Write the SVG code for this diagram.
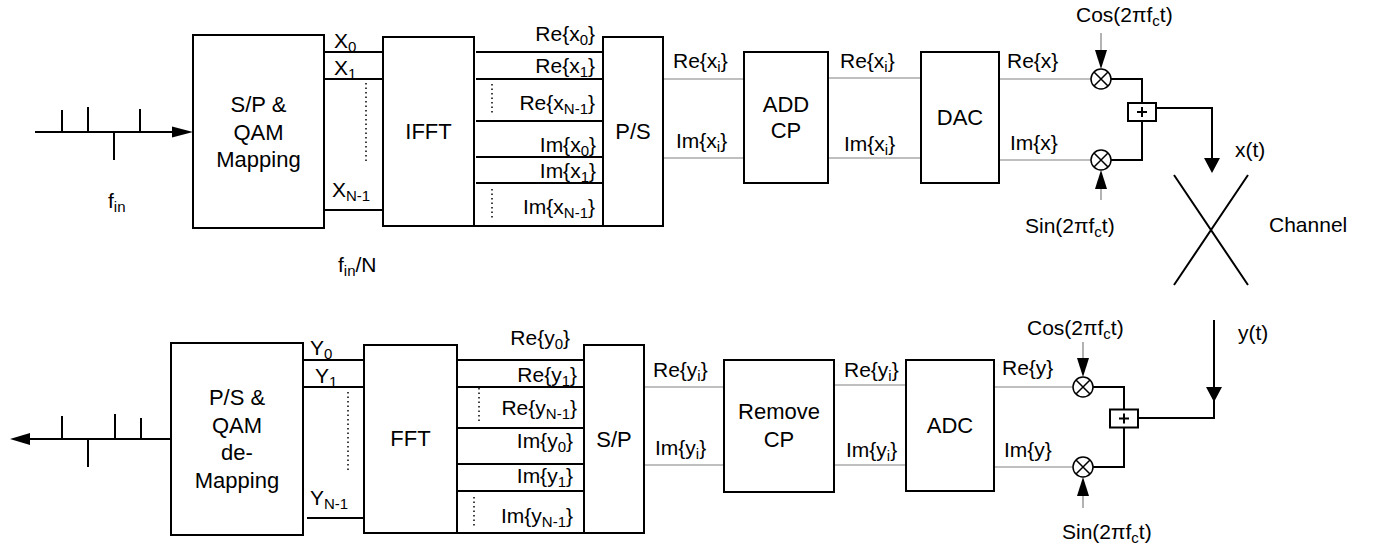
<svg xmlns="http://www.w3.org/2000/svg" width="1377" height="550" viewBox="0 0 1377 550">
<style>
text{font-family:"Liberation Sans",Arial,sans-serif;fill:#000}
.blk{font-size:22px;text-anchor:middle}
.lbl{font-size:21px}
.end{text-anchor:end}
.sub{font-size:15px}
.box{fill:#fff;stroke:#000;stroke-width:2}
.bus{fill:none;stroke:#000;stroke-width:2}
.thin{fill:none;stroke:#808080;stroke-width:1.2}
.dot{fill:none;stroke:#000;stroke-width:1.5;stroke-dasharray:1.5 3}
.ah{fill:#000;stroke:none}
</style>
<defs>
<g id="mixer">
<circle cx="0" cy="0" r="10" fill="#fff" stroke="#000" stroke-width="1.5"/>
<path d="M-7,-7L7,7M7,-7L-7,7" stroke="#000" stroke-width="1.5"/>
</g>
<g id="adder">
<rect x="-14" y="-9" width="28" height="18" fill="#fff" stroke="#000" stroke-width="2"/>
<path d="M-5,0H5M0,-5V5" stroke="#000" stroke-width="2"/>
</g>
<path id="ahDown" d="M-8,-15L8,-15L0,0Z"/>
<path id="ahSmallDown" d="M-6,-19L6,-19L0,0Z"/>
</defs>

<g id="connectors">
<!-- top input bit stream -->
<path class="bus" d="M35,132H174M62,132V110M88,132V107M140,132V109M114,132V160"/>
<path class="ah" d="M172,126.5L193,132L172,137.5Z"/>
<!-- X lines -->
<path class="bus" d="M324,52H383M324,79H383M325,210H384"/>
<path class="dot" d="M366,83V163"/>
<!-- IFFT to P/S -->
<path class="bus" d="M476,52H603M476,79H603M476,121H603M476,157H603M476,183H603M474,226H603"/>
<path class="dot" d="M492,84V113M492,189V218"/>
<path class="thin" d="M663,79H744M663,158H744M828,78H921M828,158H921M999,79H1091M999,160H1091"/>
<!-- carriers top -->
<path class="thin" d="M1101,33V50M1101,200V185"/>
<use href="#ahSmallDown" class="ah" x="1101" y="69"/>
<use href="#ahSmallDown" class="ah" transform="translate(1101,170) rotate(180)"/>
<path class="bus" d="M1111,79H1142V103M1111,160H1142V121M1156,108H1212V160"/>
<use href="#ahDown" class="ah" x="1212" y="173"/>
<!-- channel -->
<path class="bus" d="M1174,175L1248,285M1248,175L1174,285"/>
<!-- bottom -->
<path class="bus" d="M1214,320V390M1214,400V418H1138"/>
<use href="#ahDown" class="ah" x="1214" y="402"/>
<path class="thin" d="M1083,342V360M1083,508V492"/>
<use href="#ahSmallDown" class="ah" x="1083" y="377"/>
<use href="#ahSmallDown" class="ah" transform="translate(1083,477) rotate(180)"/>
<path class="bus" d="M1093,387H1124V409M1093,467H1124V428"/>
<path class="thin" d="M994,387H1073M994,467H1073M834,385H906M834,465H906M644,387H724M644,465H724"/>
<path class="bus" d="M456,360H584M456,387H584M456,428H584M456,464H584M456,491H584M458,533H584"/>
<path class="dot" d="M479,388V423M474,497V528"/>
<path class="bus" d="M303,360H364M303,387H364M307,518H367"/>
<path class="dot" d="M348,392V470"/>
<path class="bus" d="M171,439H28M62,439V416M115,439V414M141,439V418M88,439V467"/>
<path class="ah" d="M30,433L10,439L30,445Z"/>
</g>

<g id="spqam">
<rect class="box" x="193" y="35" width="131" height="193"/>
<text class="blk" x="258.5" y="112">S/P &amp;</text>
<text class="blk" x="258.5" y="139.5">QAM</text>
<text class="blk" x="258.5" y="167">Mapping</text>
</g>
<g id="ifft">
<rect class="box" x="383" y="37" width="91" height="189"/>
<text class="blk" x="428.5" y="139">IFFT</text>
</g>
<g id="ps">
<rect class="box" x="603" y="37" width="60" height="189"/>
<text class="blk" x="633" y="139">P/S</text>
</g>
<g id="addcp">
<rect class="box" x="744" y="52" width="84" height="131"/>
<text class="blk" x="786" y="112">ADD</text>
<text class="blk" x="786" y="138">CP</text>
</g>
<g id="dac">
<rect class="box" x="921" y="52" width="78" height="131"/>
<text class="blk" x="960" y="125">DAC</text>
</g>
<g id="mixTopRe"><use href="#mixer" x="1101" y="79"/></g>
<g id="mixTopIm"><use href="#mixer" x="1101" y="160"/></g>
<g id="addTop"><use href="#adder" x="1142" y="112"/></g>

<g id="psqam">
<rect class="box" x="171" y="343" width="132" height="192"/>
<text class="blk" x="237" y="405">P/S &amp;</text>
<text class="blk" x="237" y="433">QAM</text>
<text class="blk" x="237" y="460">de-</text>
<text class="blk" x="237" y="488">Mapping</text>
</g>
<g id="fft">
<rect class="box" x="364" y="345" width="93" height="188"/>
<text class="blk" x="410.5" y="446">FFT</text>
</g>
<g id="sp">
<rect class="box" x="584" y="345" width="60" height="188"/>
<text class="blk" x="614" y="447">S/P</text>
</g>
<g id="removecp">
<rect class="box" x="724" y="360" width="110" height="132"/>
<text class="blk" x="779" y="419">Remove</text>
<text class="blk" x="779" y="447">CP</text>
</g>
<g id="adc">
<rect class="box" x="906" y="360" width="88" height="131"/>
<text class="blk" x="950" y="433">ADC</text>
</g>
<g id="mixBotRe"><use href="#mixer" x="1083" y="387"/></g>
<g id="mixBotIm"><use href="#mixer" x="1083" y="467"/></g>
<g id="addBot"><use href="#adder" x="1124" y="418.5"/></g>

<g id="labels">
<text class="lbl" x="108" y="208">f<tspan class="sub" dy="4">in</tspan></text>
<text class="lbl" x="338" y="272">f<tspan class="sub" dy="4">in</tspan><tspan dy="-4">/N</tspan></text>
<text class="lbl" x="334" y="48">X<tspan class="sub" dy="4">0</tspan></text>
<text class="lbl" x="334" y="75">X<tspan class="sub" dy="4">1</tspan></text>
<text class="lbl" x="332" y="197">X<tspan class="sub" dy="4">N-1</tspan></text>
<text class="lbl end" x="595" y="41">Re{x<tspan class="sub" dy="4">0</tspan><tspan dy="-4">}</tspan></text>
<text class="lbl end" x="595" y="73">Re{x<tspan class="sub" dy="4">1</tspan><tspan dy="-4">}</tspan></text>
<text class="lbl end" x="595" y="110">Re{x<tspan class="sub" dy="4">N-1</tspan><tspan dy="-4">}</tspan></text>
<text class="lbl end" x="596" y="152">Im{x<tspan class="sub" dy="4">0</tspan><tspan dy="-4">}</tspan></text>
<text class="lbl end" x="596" y="178">Im{x<tspan class="sub" dy="4">1</tspan><tspan dy="-4">}</tspan></text>
<text class="lbl end" x="595" y="214">Im{x<tspan class="sub" dy="4">N-1</tspan><tspan dy="-4">}</tspan></text>
<text class="lbl" x="673" y="68">Re{x<tspan class="sub" dy="4">i</tspan><tspan dy="-4">}</tspan></text>
<text class="lbl" x="676" y="148">Im{x<tspan class="sub" dy="4">i</tspan><tspan dy="-4">}</tspan></text>
<text class="lbl" x="840" y="68">Re{x<tspan class="sub" dy="4">i</tspan><tspan dy="-4">}</tspan></text>
<text class="lbl" x="844" y="151">Im{x<tspan class="sub" dy="4">i</tspan><tspan dy="-4">}</tspan></text>
<text class="lbl" x="1007" y="68">Re{x}</text>
<text class="lbl" x="1010" y="150">Im{x}</text>
<text class="lbl" x="1076" y="22">Cos(2πf<tspan class="sub" dy="4">c</tspan><tspan dy="-4">t)</tspan></text>
<text class="lbl" x="1025" y="233">Sin(2πf<tspan class="sub" dy="4">c</tspan><tspan dy="-4">t)</tspan></text>
<text class="lbl" x="1235" y="157">x(t)</text>
<text class="lbl" x="1269" y="232">Channel</text>
<text class="lbl" x="1238" y="340">y(t)</text>

<text class="lbl" x="310" y="355">Y<tspan class="sub" dy="4">0</tspan></text>
<text class="lbl" x="315" y="383">Y<tspan class="sub" dy="4">1</tspan></text>
<text class="lbl" x="310" y="505">Y<tspan class="sub" dy="4">N-1</tspan></text>
<text class="lbl end" x="570" y="345">Re{y<tspan class="sub" dy="4">0</tspan><tspan dy="-4">}</tspan></text>
<text class="lbl end" x="577" y="382">Re{y<tspan class="sub" dy="4">1</tspan><tspan dy="-4">}</tspan></text>
<text class="lbl end" x="577" y="415">Re{y<tspan class="sub" dy="4">N-1</tspan><tspan dy="-4">}</tspan></text>
<text class="lbl end" x="573" y="448">Im{y<tspan class="sub" dy="4">0</tspan><tspan dy="-4">}</tspan></text>
<text class="lbl end" x="573" y="483">Im{y<tspan class="sub" dy="4">1</tspan><tspan dy="-4">}</tspan></text>
<text class="lbl end" x="573" y="523">Im{y<tspan class="sub" dy="4">N-1</tspan><tspan dy="-4">}</tspan></text>
<text class="lbl" x="653" y="377">Re{y<tspan class="sub" dy="4">i</tspan><tspan dy="-4">}</tspan></text>
<text class="lbl" x="655" y="455">Im{y<tspan class="sub" dy="4">i</tspan><tspan dy="-4">}</tspan></text>
<text class="lbl" x="844" y="377">Re{y<tspan class="sub" dy="4">i</tspan><tspan dy="-4">}</tspan></text>
<text class="lbl" x="846" y="457">Im{y<tspan class="sub" dy="4">i</tspan><tspan dy="-4">}</tspan></text>
<text class="lbl" x="1002" y="375">Re{y}</text>
<text class="lbl" x="1004" y="457">Im{y}</text>
<text class="lbl" x="1027" y="335">Cos(2πf<tspan class="sub" dy="4">c</tspan><tspan dy="-4">t)</tspan></text>
<text class="lbl" x="1062" y="539">Sin(2πf<tspan class="sub" dy="4">c</tspan><tspan dy="-4">t)</tspan></text>
</g>
</svg>
